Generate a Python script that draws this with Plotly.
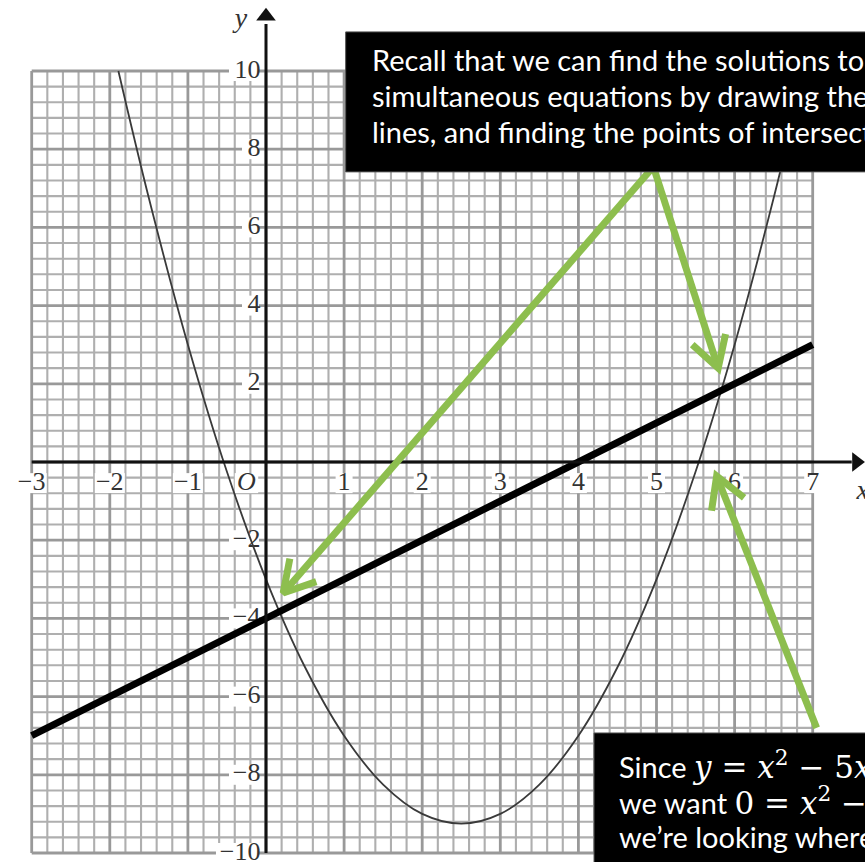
import numpy as np
import plotly.graph_objects as go

# ---- data -------------------------------------------------------------
# points on the curve y = x^2 - 5x - 3
curve_x = [-1.89, -1.5, -1, -0.5, 0, 0.5, 1, 1.5, 2, 2.5, 3, 3.5, 4, 4.5, 5, 5.5, 6, 6.5, 6.89]
curve_y = [10, 6.75, 3, -0.25, -3, -5.25, -7, -8.25, -9, -9.25, -9, -8.25, -7, -5.25, -3, -0.25, 3, 6.75, 10]

# the straight line y = x - 4
line_x = [-3, 7]
line_y = [-7, 3]

x_ticks = [-3, -2, -1, 1, 2, 3, 4, 5, 6, 7]
x_tick_labels = ["\u22123", "\u22122", "\u22121", "1", "2", "3", "4", "5", "6", "7"]
y_ticks = [10, 8, 6, 4, 2, -2, -4, -6, -8, -10]
y_tick_labels = ["10", "8", "6", "4", "2", "\u22122", "\u22124", "\u22126", "\u22128", "\u221210"]

# pointer arrows: (tail x, tail y, head x, head y)
arrows = [
    (4.96, 7.55, 0.22, -3.35),
    (4.96, 7.55, 5.79, 2.40),
    (7.05, -6.80, 5.77, -0.36),
]

# ---- geometry of the page ----------------------------------------------
W, H = 865, 862
SX, SY = 78.1, 39.1          # pixels per unit
X0PX, Y0PX = 266, 462        # pixel position of the origin
x_range = [-X0PX / SX, (W - X0PX) / SX]
y_range = [(Y0PX - H) / SY, Y0PX / SY]

GX = (-3, 7)
GY = (-10, 10)

GREEN = "#8dbe4e"
TICK_FONT = dict(family="Liberation Serif, Times New Roman, serif", size=26, color="#333333")

fig = go.Figure()

# ---- graph paper ----------------------------------------------------------
def vpath(xs):
    return " ".join(f"M{x:.3f},{GY[0]} L{x:.3f},{GY[1]}" for x in xs)

def hpath(ys):
    return " ".join(f"M{GX[0]},{y:.3f} L{GX[1]},{y:.3f}" for y in ys)

all_gx = np.round(np.arange(GX[0], GX[1] + 1e-9, 0.2), 3)
all_gy = np.round(np.arange(GY[0], GY[1] + 1e-9, 0.4), 3)
major_gx = [v for v in all_gx if abs(v - round(v)) < 1e-6]
minor_gx = [v for v in all_gx if abs(v - round(v)) >= 1e-6]
major_gy = [v for v in all_gy if abs(v / 2 - round(v / 2)) < 1e-6]
minor_gy = [v for v in all_gy if abs(v / 2 - round(v / 2)) >= 1e-6]

shapes = [
    dict(type="path", path=vpath(minor_gx) + " " + hpath(minor_gy), xref="x", yref="y",
         line=dict(color="#afafaf", width=2.1), layer="below"),
    dict(type="path", path=vpath(major_gx) + " " + hpath(major_gy), xref="x", yref="y",
         line=dict(color="#999999", width=2.8), layer="below"),
]

# white patches behind the tick numbers
XLAB_Y = -0.54
for v, t in zip(x_ticks, x_tick_labels):
    w = (len(t) * 13 + 4) / SX
    shapes.append(dict(type="rect", xref="x", yref="y", layer="below",
                       x0=v - w / 2, x1=v + w / 2, y0=XLAB_Y - 10 / SY, y1=XLAB_Y + 10 / SY,
                       fillcolor="white", line=dict(width=0)))
for v, t in zip(y_ticks, y_tick_labels):
    w = (len(t) * 13 + 4) / SX
    shapes.append(dict(type="rect", xref="x", yref="y", layer="below",
                       x0=-0.09 - w, x1=-0.09, y0=v - 10 / SY, y1=v + 10 / SY,
                       fillcolor="white", line=dict(width=0)))
# origin label patch
shapes.append(dict(type="rect", xref="x", yref="y", layer="below",
                   x0=-0.40, x1=-0.1, y0=XLAB_Y - 10 / SY, y1=XLAB_Y + 10 / SY,
                   fillcolor="white", line=dict(width=0)))

# ---- tick numbers -----------------------------------------------------------
fig.add_trace(go.Scatter(x=x_ticks, y=[XLAB_Y] * len(x_ticks), mode="text",
                         text=x_tick_labels, textposition="middle center",
                         textfont=TICK_FONT, hoverinfo="skip"))
fig.add_trace(go.Scatter(x=[-0.07] * len(y_ticks), y=y_ticks, mode="text",
                         text=y_tick_labels, textposition="middle left",
                         textfont=TICK_FONT, hoverinfo="skip"))
fig.add_trace(go.Scatter(x=[-0.25], y=[XLAB_Y], mode="text", text=["<i>O</i>"],
                         textposition="middle center", textfont=TICK_FONT, hoverinfo="skip"))

# ---- curve and line -----------------------------------------------------------
fig.add_trace(go.Scatter(x=curve_x, y=curve_y, mode="lines",
                         line=dict(color="#3a3a3a", width=1.8, shape="spline", smoothing=1.0),
                         hoverinfo="skip"))
fig.add_trace(go.Scatter(x=line_x, y=line_y, mode="lines",
                         line=dict(color="black", width=7), hoverinfo="skip"))

# ---- coordinate axes with arrow tips ------------------------------------------
fig.add_trace(go.Scatter(x=[GX[0], 7.5], y=[0, 0], mode="lines",
                         line=dict(color="#111111", width=3), hoverinfo="skip"))
fig.add_trace(go.Scatter(x=[0, 0], y=[GY[0], 11.2], mode="lines",
                         line=dict(color="#111111", width=3), hoverinfo="skip"))
fig.add_trace(go.Scatter(x=[7.56], y=[0], mode="markers",
                         marker=dict(symbol="triangle-right", size=17, color="#111111"),
                         hoverinfo="skip"))
fig.add_trace(go.Scatter(x=[0], y=[11.4], mode="markers",
                         marker=dict(symbol="triangle-up", size=17, color="#111111"),
                         hoverinfo="skip"))
fig.add_trace(go.Scatter(x=[-0.32, 7.64], y=[11.3, -0.77], mode="text",
                         text=["<i>y</i>", "<i>x</i>"], textposition="middle center",
                         textfont=dict(family="Liberation Serif, serif", size=28, color="#333333"),
                         hoverinfo="skip"))

# ---- green pointer arrows --------------------------------------------------------
BARB_LEN, BARB_ANG = 35.0, np.radians(30)
for tx, ty, hx, hy in arrows:
    # work in pixel-proportional space so the barbs keep their angle
    dx, dy = (tx - hx) * SX, (ty - hy) * SY
    n = np.hypot(dx, dy)
    ux, uy = dx / n, dy / n
    barbs = []
    for s in (1, -1):
        c, sn = np.cos(s * BARB_ANG), np.sin(s * BARB_ANG)
        bx, by = ux * c - uy * sn, ux * sn + uy * c
        barbs.append((hx + BARB_LEN * bx / SX, hy + BARB_LEN * by / SY))
    xs = [tx, hx, None, barbs[0][0], hx, barbs[1][0]]
    ys = [ty, hy, None, barbs[0][1], hy, barbs[1][1]]
    fig.add_trace(go.Scatter(x=xs, y=ys, mode="lines",
                             line=dict(color=GREEN, width=7), hoverinfo="skip"))

# ---- explanation boxes ------------------------------------------------------------
shapes.append(dict(type="rect", xref="x", yref="y", layer="above",
                   x0=1.02, x1=8.5, y0=7.42, y1=11.0,
                   fillcolor="black", line=dict(color="#555555", width=1)))
shapes.append(dict(type="rect", xref="x", yref="y", layer="above",
                   x0=4.2, x1=8.5, y0=-11.5, y1=-6.93,
                   fillcolor="black", line=dict(color="#555555", width=1)))

BOX_FONT = dict(family="Lato, Carlito, sans-serif", size=29, color="white")
MATH = "<span style='font-family:DejaVu Serif;font-size:31px'>{}</span>"

box1_lines = [
    "Recall that we can find the solutions to the",
    "simultaneous equations by drawing the",
    "lines, and finding the points of intersection.",
]
box1_y = [10.30, 9.38, 8.46]

box2_lines = [
    "Since " + MATH.format("<i>y</i> = <i>x</i><sup>2</sup> \u2212 5<i>x</i> \u2212 3") + " and",
    "we want " + MATH.format("0 = <i>x</i><sup>2</sup> \u2212 5<i>x</i> \u2212 3") + ",",
    "we\u2019re looking where the curve crosses",
]
box2_y = [-7.75, -8.67, -9.59]

annotations = []
for txt, yy in zip(box1_lines, box1_y):
    annotations.append(dict(x=1.33, y=yy, xref="x", yref="y", text=txt, showarrow=False,
                            xanchor="left", yanchor="middle", font=BOX_FONT))
for txt, yy in zip(box2_lines, box2_y):
    annotations.append(dict(x=4.49, y=yy, xref="x", yref="y", text=txt, showarrow=False,
                            xanchor="left", yanchor="middle", font=BOX_FONT))

fig.update_layout(
    width=W, height=H,
    margin=dict(l=0, r=0, t=0, b=0),
    paper_bgcolor="white", plot_bgcolor="white",
    showlegend=False, hovermode=False,
    xaxis=dict(range=x_range, visible=False, fixedrange=True),
    yaxis=dict(range=y_range, visible=False, fixedrange=True),
    shapes=shapes, annotations=annotations,
)

fig.write_html("out.html", config=dict(displayModeBar=False))
